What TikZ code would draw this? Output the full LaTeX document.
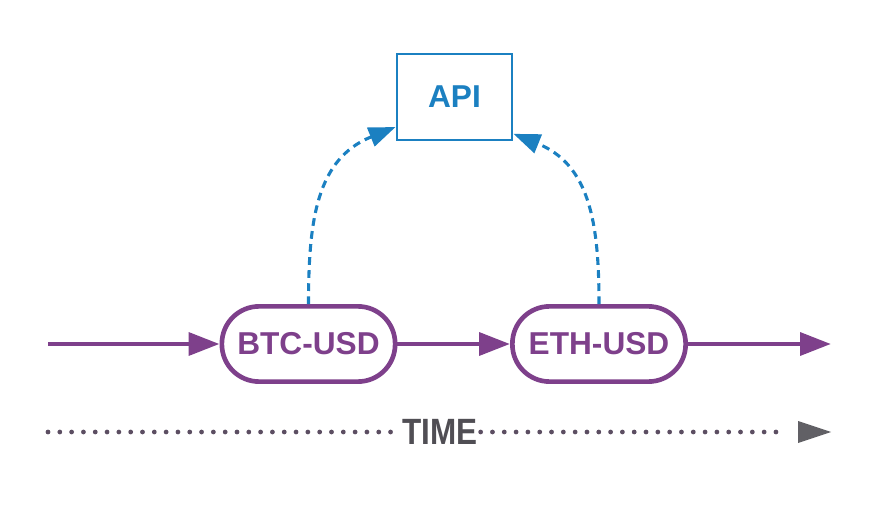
\documentclass[tikz,border=0pt]{standalone}
\usepackage{fontspec}
\setmainfont{Liberation Sans}
\usepackage{xcolor}
\usepackage{graphicx}
\usetikzlibrary{arrows.meta, positioning}
\definecolor{tickpurple}{RGB}{126, 64, 139}
\definecolor{tickblue}{RGB}{27, 128, 193}
\definecolor{tickgray}{RGB}{80, 78, 84}
\definecolor{tickdots}{RGB}{92, 78, 98}
\tikzstyle{pairnode} = [rectangle, rounded corners=0.93cm, minimum width=4.33cm, minimum height=1.88cm, text centered, draw=tickpurple, line width=3.3pt, text=tickpurple, font=\fontsize{22.5}{26}\selectfont\bfseries]
\tikzstyle{apinode} = [rectangle, minimum width=2.88cm, minimum height=2.15cm, text centered, draw=tickblue, line width=1.9pt, text=tickblue, font=\fontsize{22.5}{26}\selectfont\bfseries]
\tikzstyle{timenode} = [inner sep=2pt, text=tickgray, font=\fontsize{26}{30}\selectfont\bfseries]
\tikzstyle{flow} = [draw=tickpurple, line width=3.5pt, -{Triangle[length=22pt, width=16pt]}]
\tikzstyle{poll} = [draw=tickblue, line width=2.2pt, dash pattern=on 5.5pt off 3.8pt, -{Triangle[length=19pt, width=14pt]}]
\tikzstyle{timeline} = [draw=tickdots, line width=3.4pt, line cap=round, dash pattern=on 0pt off 8.4pt]

\begin{document}
\begin{tikzpicture}[x=0.025cm, y=0.025cm]
                \useasboundingbox (0,0) rectangle (880,520);
                \node[pairnode] (btc) at (308.5,176) {BTC-USD};
                \node[pairnode] (eth) at (599,176) {ETH-USD};
                \node[apinode] (api) at (454.5,423) {API};
                \node[timenode] (time) at (440,88) {\scalebox{0.86}[1]{TIME}};
                \coordinate (start) at (48,176);
                \coordinate (finish) at (831,176);
                \coordinate (tstart) at (48,88);
                \coordinate (tend) at (831,88);
                
                \draw[flow] (start) -- (btc);
                \draw[flow] (btc) -- (eth);
                \draw[flow] (eth) -- (finish);
                \draw[poll] (btc.north) to[out=90, in=202, looseness=1.1] (api.207);
                \draw[poll] (eth.north) to[out=90, in=338, looseness=1.1] (api.328);
                \draw[timeline] (tstart) -- (time);
                \draw[timeline] (time) -- ([xshift=-1.1cm]tend);
                \fill[tickgray!90] (tend) -- ++(-33,11) -- ++(0,-22) -- cycle;
            \end{tikzpicture}
\end{document}
